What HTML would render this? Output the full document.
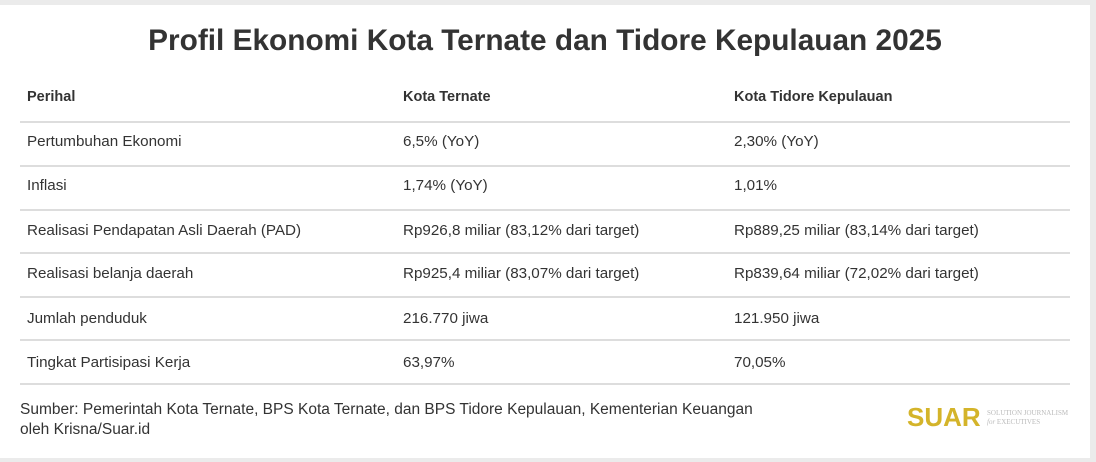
<!DOCTYPE html>
<html><head><style>
body{margin:0;width:1096px;height:462px;background:#ebebeb;font-family:"Liberation Sans",sans-serif;color:#333;position:relative;overflow:hidden}
.card{position:absolute;left:0;top:5px;width:1090px;height:453px;background:#fff}
h1{position:absolute;left:0;width:1090px;top:24px;margin:0;text-align:center;font-size:29.8px;font-weight:bold;color:#333}
.t{position:absolute;font-size:15.2px;color:#333;white-space:nowrap}
.b{font-weight:bold;font-size:14.5px}
.l{position:absolute;left:20px;width:1050px;height:2px;background:#ddd}
.src{position:absolute;left:20px;top:400px;font-size:15.5px;line-height:20px;color:#333;white-space:nowrap}
.logo{position:absolute;left:907px;top:402px;font-size:26px;font-weight:bold;color:#d4b42a;letter-spacing:0}
.sub{position:absolute;left:987px;top:409px;font-size:7px;line-height:9px;color:#bbb;font-family:"Liberation Serif",serif}
</style></head><body>
<div class="card"></div>
<h1>Profil Ekonomi Kota Ternate dan Tidore Kepulauan 2025</h1>
<div class="t b" style="left:27px;top:89px">Perihal</div>
<div class="t b" style="left:403px;top:89px">Kota Ternate</div>
<div class="t b" style="left:734px;top:89px">Kota Tidore Kepulauan</div>
<div class="l" style="top:121px"></div>
<div class="t" style="left:27px;top:133px">Pertumbuhan Ekonomi</div><div class="t" style="left:403px;top:133px">6,5% (YoY)</div><div class="t" style="left:734px;top:133px">2,30% (YoY)</div>
<div class="l" style="top:165px"></div>
<div class="t" style="left:27px;top:177px">Inflasi</div><div class="t" style="left:403px;top:177px">1,74% (YoY)</div><div class="t" style="left:734px;top:177px">1,01%</div>
<div class="l" style="top:209px"></div>
<div class="t" style="left:27px;top:222px">Realisasi Pendapatan Asli Daerah (PAD)</div><div class="t" style="left:403px;top:222px">Rp926,8 miliar (83,12% dari target)</div><div class="t" style="left:734px;top:222px">Rp889,25 miliar (83,14% dari target)</div>
<div class="l" style="top:252px"></div>
<div class="t" style="left:27px;top:265px">Realisasi belanja daerah</div><div class="t" style="left:403px;top:265px">Rp925,4 miliar (83,07% dari target)</div><div class="t" style="left:734px;top:265px">Rp839,64 miliar (72,02% dari target)</div>
<div class="l" style="top:296px"></div>
<div class="t" style="left:27px;top:310px">Jumlah penduduk</div><div class="t" style="left:403px;top:310px">216.770 jiwa</div><div class="t" style="left:734px;top:310px">121.950 jiwa</div>
<div class="l" style="top:339px"></div>
<div class="t" style="left:27px;top:354px">Tingkat Partisipasi Kerja</div><div class="t" style="left:403px;top:354px">63,97%</div><div class="t" style="left:734px;top:354px">70,05%</div>
<div class="l" style="top:383px"></div>
<div class="src">Sumber: Pemerintah Kota Ternate, BPS Kota Ternate, dan BPS Tidore Kepulauan, Kementerian Keuangan<br>oleh Krisna/Suar.id</div>
<div class="logo">SUAR</div>
<div class="sub">SOLUTION JOURNALISM<br><i>for</i> EXECUTIVES</div>
</body></html>
